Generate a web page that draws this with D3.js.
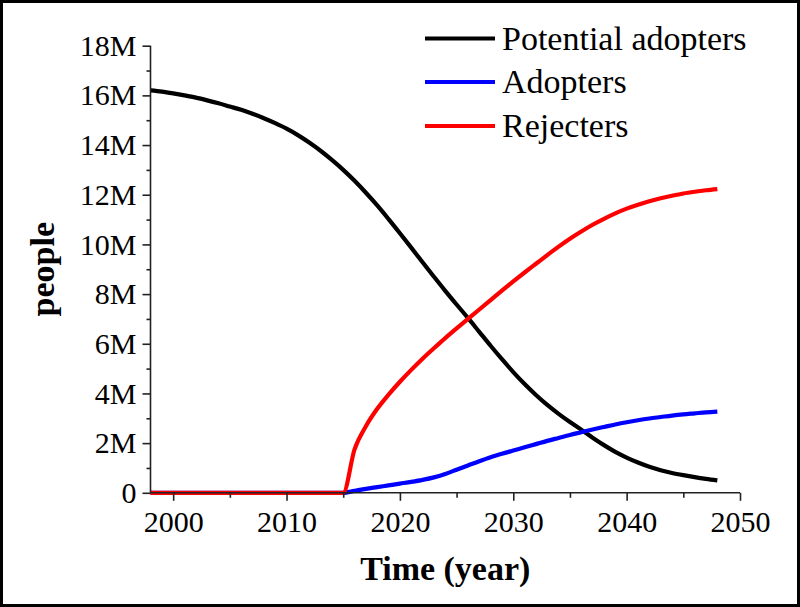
<!DOCTYPE html>
<html>
<head>
<meta charset="utf-8">
<script src="https://cdn.jsdelivr.net/npm/d3@7"></script>
<style>
  html, body { margin: 0; padding: 0; background: #fff; }
  svg { display: block; }
  text { font-family: "Liberation Serif", "Times New Roman", serif; fill: #000; }
</style>
</head>
<body>
<svg id="chart" width="800" height="607"></svg>
<script>
// ---- data (millions of people) ----
const years = d3.range(1998, 2049);
const potentialAdopters = [
  16.20, 16.15, 16.08, 16.00, 15.91, 15.80, 15.68, 15.55, 15.42, 15.26,
  15.08, 14.88, 14.66, 14.40, 14.10, 13.77, 13.40, 13.00, 12.56, 12.08,
  11.57, 11.02, 10.45, 9.87, 9.28, 8.70, 8.13, 7.58, 7.04, 6.48,
  5.92, 5.38, 4.86, 4.38, 3.94, 3.54, 3.18, 2.85, 2.54, 2.22,
  1.92, 1.65, 1.42, 1.22, 1.05, 0.91, 0.80, 0.71, 0.63, 0.56,
  0.50
];
const adopters = [
  0, 0, 0, 0, 0, 0, 0, 0, 0, 0,
  0, 0, 0, 0, 0, 0, 0, 0, 0.08, 0.16,
  0.23, 0.30, 0.37, 0.44, 0.52, 0.62, 0.76, 0.93, 1.10, 1.27,
  1.43, 1.57, 1.70, 1.83, 1.96, 2.09, 2.21, 2.33, 2.44, 2.55,
  2.65, 2.75, 2.84, 2.92, 2.99, 3.05, 3.11, 3.16, 3.20, 3.24,
  3.27
];
const rejecters = [
  0, 0, 0, 0, 0, 0, 0, 0, 0, 0,
  0, 0, 0, 0, 0, 0, 0, 0, 1.75, 2.68,
  3.38, 3.95, 4.47, 4.95, 5.40, 5.82, 6.23, 6.62, 7.00, 7.38,
  7.76, 8.14, 8.51, 8.87, 9.22, 9.57, 9.91, 10.23, 10.52, 10.79,
  11.03, 11.25, 11.44, 11.60, 11.74, 11.86, 11.96, 12.05, 12.12, 12.18,
  12.23
];
const seriesNames = ["Potential adopters", "Adopters", "Rejecters"];
const seriesColors = ["#000000", "#0000ff", "#ff0000"];
const seriesValues = [potentialAdopters, adopters, rejecters];
const yTickValues = [0, 2, 4, 6, 8, 10, 12, 14, 16, 18];
const xTickValues = [2000, 2010, 2020, 2030, 2040, 2050];

// ---- layout ----
const svg = d3.select("#chart");
const pLeft = 150.5, pRight = 740, pTop = 45.7, pBottom = 492.8;

const x = d3.scaleLinear().domain([1998, 2050]).range([pLeft, pRight]);
const y = d3.scaleLinear().domain([0, 18]).range([pBottom, pTop]);

// border
svg.append("rect")
  .attr("x", 1.5).attr("y", 1.5).attr("width", 797).attr("height", 604)
  .attr("fill", "none").attr("stroke", "#000").attr("stroke-width", 3);

// lines
const line = d3.line()
  .x((d, i) => x(years[i]))
  .y(d => y(d))
  .curve(d3.curveMonotoneX);

[0, 1, 2].forEach(k => {
  svg.append("path")
    .datum(seriesValues[k])
    .attr("d", line)
    .attr("fill", "none")
    .attr("stroke", seriesColors[k])
    .attr("stroke-width", 4.2)
    .attr("stroke-linejoin", "round");
});

// axes
const axisColor = "#222";
const yAxis = d3.axisLeft(y).tickValues(yTickValues)
  .tickFormat(d => d === 0 ? "0" : d + "M").tickSize(8).tickPadding(6);
const yMinor = d3.axisLeft(y).tickValues(d3.range(1, 18, 2)).tickFormat("").tickSize(4);
const xAxis = d3.axisBottom(x).tickValues(xTickValues)
  .tickFormat(d3.format("d")).tickSize(8).tickPadding(10);
const xMinor = d3.axisBottom(x).tickValues(d3.range(2005, 2050, 10)).tickFormat("").tickSize(5);

function styleAxis(g) {
  g.select(".domain").attr("stroke", axisColor).attr("stroke-width", 1.6);
  g.selectAll(".tick line").attr("stroke", axisColor).attr("stroke-width", 1.6);
  g.selectAll(".tick text")
    .style("font-family", '"Liberation Serif", "Times New Roman", serif')
    .style("font-size", "30px").attr("fill", "#000");
}

const gx = svg.append("g").attr("transform", `translate(0,${pBottom})`).call(xAxis);
styleAxis(gx);
const gxm = svg.append("g").attr("transform", `translate(0,${pBottom})`).call(xMinor);
styleAxis(gxm);
gxm.select(".domain").remove();
const gy = svg.append("g").attr("transform", `translate(${pLeft},0)`).call(yAxis);
styleAxis(gy);
const gym = svg.append("g").attr("transform", `translate(${pLeft},0)`).call(yMinor);
styleAxis(gym);
gym.select(".domain").remove();
gx.select(".domain").attr("d", `M${pLeft},0H${pRight}`);
gy.select(".domain").attr("d", `M0,${pBottom}V${pTop}`);

// axis titles
svg.append("text")
  .attr("x", (pLeft + pRight) / 2).attr("y", 580)
  .attr("text-anchor", "middle")
  .style("font-size", "34px").style("font-weight", "bold")
  .text("Time (year)");
svg.append("text")
  .attr("transform", `translate(54,${(pTop + pBottom) / 2}) rotate(-90)`)
  .attr("text-anchor", "middle")
  .style("font-size", "34px").style("font-weight", "bold")
  .text("people");

// legend
const legendY = [38.5, 82, 126];
const legend = svg.append("g");
seriesNames.forEach((name, i) => {
  legend.append("line")
    .attr("x1", 425).attr("x2", 495)
    .attr("y1", legendY[i]).attr("y2", legendY[i])
    .attr("stroke", seriesColors[i]).attr("stroke-width", 4.2);
  legend.append("text")
    .attr("x", 502).attr("y", legendY[i] + 11)
    .style("font-size", "34px")
    .text(name);
});
</script>
</body>
</html>
